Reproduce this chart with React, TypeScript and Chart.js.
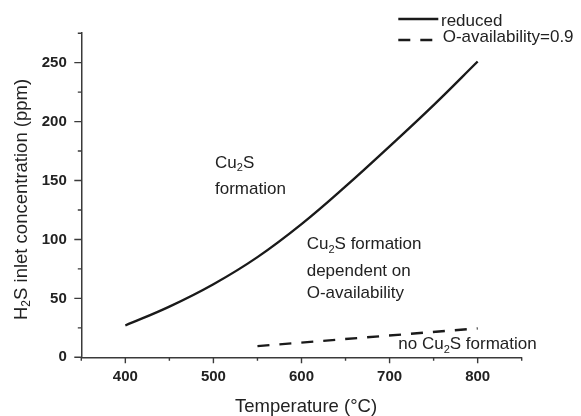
import React, { useEffect, useRef } from 'react';
import { Chart, registerables } from 'chart.js';

Chart.register(...registerables);

// ---------- data ----------
const reducedTemps = [400, 450, 500, 550, 600, 650, 700, 750, 800];
const reducedValues = [27, 43, 62, 85, 113, 145, 179, 214, 251];
const oAvailTemps = [550, 800];
const oAvailValues = [9.5, 24.5];
const seriesLabels = ['reduced', 'O-availability=0.9'];

const xMin = 350;
const xMax = 850;
const xStep = 50;
const xLabelEvery = 100;
const yMin = 0;
const yMax = 275;
const yStep = 25;
const yLabelEvery = 50;

const xTitle = 'Temperature (°C)';
const yTitle = 'H_{2}S inlet concentration (ppm)';
const regionTexts = [
  'Cu_{2}S',
  'formation',
  'Cu_{2}S formation',
  'dependent on',
  'O-availability',
  'no Cu_{2}S formation',
];

// ---------- layout / style ----------
const W = 581;
const H = 416;
const FONT = '"Liberation Sans", Arial, Helvetica, sans-serif';
const INK = '#222222';
const AXIS = '#3a3a3a';

const regionPos = [
  { x: 215, y: 167.5 },
  { x: 215, y: 194.3 },
  { x: 306.7, y: 249.3 },
  { x: 306.7, y: 276.2 },
  { x: 306.7, y: 297.6 },
  { x: 398.3, y: 349.3 },
];

function parseRich(s: string) {
  const parts: { t: string; sub: boolean }[] = [];
  const re = /_\{(.*?)\}/g;
  let last = 0;
  let m: RegExpExecArray | null;
  while ((m = re.exec(s))) {
    if (m.index > last) parts.push({ t: s.slice(last, m.index), sub: false });
    parts.push({ t: m[1], sub: true });
    last = m.index + m[0].length;
  }
  if (last < s.length) parts.push({ t: s.slice(last), sub: false });
  return parts;
}

function drawRich(ctx: CanvasRenderingContext2D, s: string, x: number, y: number, size: number) {
  let cx = x;
  ctx.textAlign = 'left';
  ctx.textBaseline = 'alphabetic';
  for (const seg of parseRich(s)) {
    const fs = seg.sub ? size * 0.65 : size;
    ctx.font = `normal ${fs}px ${FONT}`;
    ctx.fillText(seg.t, cx, seg.sub ? y + size * 0.2 : y);
    cx += ctx.measureText(seg.t).width;
  }
}

const decorPlugin = {
  id: 'decor',
  afterDraw(chart: any) {
    const ctx: CanvasRenderingContext2D = chart.ctx;
    const xs = chart.scales.x;
    const ys = chart.scales.y;
    const area = chart.chartArea;
    ctx.save();
    // tick marks
    ctx.strokeStyle = AXIS;
    ctx.lineWidth = 1.4;
    ctx.beginPath();
    for (const t of xs.ticks) {
      const px = xs.getPixelForValue(t.value);
      const len = t.value % xLabelEvery === 0 ? 6 : 3.5;
      ctx.moveTo(px, area.bottom);
      ctx.lineTo(px, area.bottom + len);
    }
    for (const t of ys.ticks) {
      const py = ys.getPixelForValue(t.value);
      const len = t.value % yLabelEvery === 0 ? 7 : 3.5;
      ctx.moveTo(area.left, py);
      ctx.lineTo(area.left - len, py);
    }
    ctx.stroke();

    ctx.fillStyle = INK;
    // axis titles
    drawRich(ctx, xTitle, 235, 412, 18.5);
    ctx.save();
    ctx.translate(26.5, 320);
    ctx.rotate(-Math.PI / 2);
    drawRich(ctx, yTitle, 0, 0, 18.5);
    ctx.restore();

    // region labels
    regionTexts.forEach((txt, i) => {
      drawRich(ctx, txt, regionPos[i].x, regionPos[i].y, 17);
    });

    // legend
    const legendRows = [
      { lineY: 19, textY: 25.7 },
      { lineY: 40, textY: 42.3 },
    ];
    chart.data.datasets.forEach((ds: any, i: number) => {
      const row = legendRows[i];
      ctx.strokeStyle = ds.borderColor;
      ctx.lineWidth = ds.borderWidth;
      ctx.setLineDash(ds.borderDash || []);
      ctx.beginPath();
      ctx.moveTo(398.3, row.lineY);
      ctx.lineTo(i === 0 ? 438.3 : 432.3, row.lineY);
      ctx.stroke();
      ctx.setLineDash([]);
      ctx.fillStyle = INK;
      drawRich(ctx, ds.label, i === 0 ? 441 : 442.7, row.textY, 17);
    });
    ctx.restore();
  },
};

export default function App() {
  const ref = useRef<HTMLCanvasElement>(null);
  useEffect(() => {
    document.body.style.margin = '0';
    const canvas = ref.current;
    if (!canvas) return;
    const tickFont = { family: FONT, size: 15, weight: 'bold' as const };
    const chart = new Chart(canvas, {
      type: 'line',
      data: {
        datasets: [
          {
            label: seriesLabels[0],
            data: reducedTemps.map((x, i) => ({ x, y: reducedValues[i] })),
            borderColor: '#1a1a1a',
            borderWidth: 2.4,
            pointRadius: 0,
            tension: 0.4,
            fill: false,
          },
          {
            label: seriesLabels[1],
            data: oAvailTemps.map((x, i) => ({ x, y: oAvailValues[i] })),
            borderColor: '#1a1a1a',
            borderWidth: 2.4,
            borderDash: [12, 10],
            pointRadius: 0,
            fill: false,
          },
        ],
      },
      options: {
        animation: false,
        responsive: false,
        events: [],
        layout: { padding: { top: 33.2, right: W - 521.7, left: 0, bottom: 0 } },
        plugins: { legend: { display: false }, tooltip: { enabled: false }, title: { display: false } },
        scales: {
          x: {
            type: 'linear',
            min: xMin,
            max: xMax,
            grid: { display: false, drawTicks: false },
            border: { display: true, color: AXIS, width: 1.5 },
            ticks: {
              stepSize: xStep,
              autoSkip: false,
              maxRotation: 0,
              padding: 11,
              color: INK,
              font: tickFont,
              callback: (v: any) => (Number(v) % xLabelEvery === 0 ? String(v) : ''),
            },
            afterFit: (s: any) => {
              s.height = H - 357.3;
            },
          },
          y: {
            type: 'linear',
            min: yMin,
            max: yMax,
            grid: { display: false, drawTicks: false },
            border: { display: true, color: AXIS, width: 1.5 },
            ticks: {
              stepSize: yStep,
              autoSkip: false,
              padding: 14.5,
              color: INK,
              font: tickFont,
              callback: (v: any) => (Number(v) % yLabelEvery === 0 ? String(v) : ''),
            },
            afterFit: (s: any) => {
              s.width = 81.3;
            },
          },
        },
      },
      plugins: [decorPlugin],
    });
    return () => chart.destroy();
  }, []);
  return (
    <div style={{ width: W, height: H, position: 'relative', background: '#fff' }}>
      <canvas ref={ref} width={W} height={H} style={{ display: 'block' }} />
    </div>
  );
}
